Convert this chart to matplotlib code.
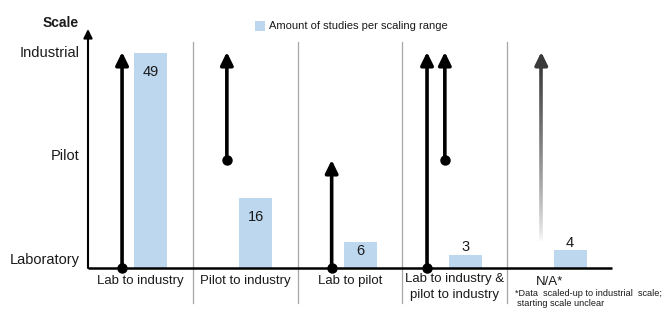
import matplotlib
matplotlib.use("Agg")
import matplotlib.pyplot as plt
import numpy as np
from matplotlib.collections import LineCollection
from matplotlib.patches import Patch

plt.rcParams['font.family'] = ['Liberation Sans', 'DejaVu Sans']

# ---- data ----
categories = ["Lab to industry", "Pilot to industry", "Lab to pilot",
              "Lab to industry &\npilot to industry", "N/A*"]
study_counts = [49, 16, 6, 3, 4]
scale_levels = ["Laboratory", "Pilot", "Industrial"]
# scaling ranges per category: (start level, end level); None start = unclear
ranges = [
    [(0, 2)],
    [(1, 2)],
    [(0, 1)],
    [(0, 2), (1, 2)],
    [(None, 2)],
]
legend_label = "Amount of studies per scaling range"
footnote1 = "*Data  scaled-up to industrial  scale;"
footnote2 = "starting scale unclear"

W, H = 669, 312
fig = plt.figure(figsize=(W / 100, H / 100), dpi=100)
rect = [88 / W, 44 / H, 524 / W, 239 / H]
ax_bar = fig.add_axes(rect)
ax = fig.add_axes(rect)
for a in (ax_bar, ax):
    a.set_xlim(0, 5)
    a.axis('off')
    a.patch.set_alpha(0)
ax_bar.set_ylim(0, 239 / 4.39)
ax.set_ylim(0, 239 / 108)
top = 239 / 108

txtc = '#1a1a1a'
bar_color = '#BDD7EE'

# bars
xs = np.arange(len(categories))
bars = ax_bar.bar(xs + 0.6, study_counts, width=0.315, color=bar_color, zorder=2)
for x, v in zip(xs, study_counts):
    if v >= 10:
        off = -14
    elif v >= 5:
        off = -7
    else:
        off = 5.5
    ax_bar.annotate(str(v), xy=(x + 0.6, v), xytext=(0, off), textcoords='offset points',
                    ha='center', va='center', fontsize=10.5, color=txtc)

# dividers
for i in range(1, len(categories)):
    ax.plot([i, i], [-0.324, 2.093], color='#a6a6a6', lw=0.9, clip_on=False, zorder=1)

# axes lines
ax.plot([0, 5], [0, 0], color='black', lw=1.8, clip_on=False, zorder=5, solid_capstyle='butt')
ax.annotate('', xy=(0, top), xytext=(0, 0),
            arrowprops=dict(arrowstyle='-|>', lw=1.5, color='black', mutation_scale=13,
                            shrinkA=0, shrinkB=0), annotation_clip=False, zorder=5)

# scale labels
ax.text(-0.26, top + 0.06, "Scale", ha='center', va='center', fontsize=10,
        fontweight='bold', color=txtc, clip_on=False)
label_offsets = [6, 3, -1]
for lvl, (name, off) in enumerate(zip(scale_levels, label_offsets)):
    ax.annotate(name, xy=(0, lvl), xytext=(-6, off), textcoords='offset points',
                ha='right', va='center', fontsize=10.5, color=txtc, annotation_clip=False)

# range arrows
aprops = dict(arrowstyle='-|>,head_length=0.45,head_width=0.22', lw=2.6, color='black',
              mutation_scale=17, shrinkA=0, shrinkB=0)
for i, rs in enumerate(ranges):
    n = len(rs)
    offs = [0.325] if n == 1 else [0.235, 0.405]
    for (s, e), o in zip(rs, offs):
        x = i + o
        if s is None:
            ys = np.linspace(0.25, e - 0.12, 80)
            pts = np.array([[x, y] for y in ys])
            segs = np.stack([pts[:-1], pts[1:]], axis=1)
            t = np.linspace(0, 1, len(segs))
            cols = [(0.98 - 0.75 * tt ** 0.75,) * 3 for tt in t]
            lc = LineCollection(segs, colors=cols, linewidths=2.6, zorder=4)
            ax.add_collection(lc)
            p = dict(aprops, color='#3a3a3a')
            ax.annotate('', xy=(x, e), xytext=(x, e - 0.13), arrowprops=p, zorder=4)
        else:
            ax.annotate('', xy=(x, e), xytext=(x, s), arrowprops=aprops, zorder=4)
            ax.plot([x], [s], 'o', color='black', ms=6.5, zorder=6, clip_on=False)

# category labels
for i, c in enumerate(categories):
    if i == 4:
        xc, yc = 4.404, -0.13
    elif "\n" in c:
        xc, yc = i + 0.5, -0.176
    else:
        xc, yc = i + 0.5, -0.12
    ax.text(xc, yc, c, ha='center', va='center', fontsize=9.5, color=txtc,
            linespacing=1.35, clip_on=False)

ax.text(4.075, -0.235, footnote1, ha='left', va='center', fontsize=6.6, color=txtc, clip_on=False)
ax.text(4.094, -0.325, footnote2, ha='left', va='center', fontsize=6.6, color=txtc, clip_on=False)

# legend
fig.legend(handles=[Patch(facecolor=bar_color, edgecolor='none', label=legend_label)],
           loc='center left', bbox_to_anchor=(255 / W, 1 - 26 / H), frameon=False,
           fontsize=8, handlelength=0.9, handleheight=1.0, handletextpad=0.35,
           borderpad=0, borderaxespad=0, labelcolor=txtc)

fig.savefig("out.png", dpi=100)
